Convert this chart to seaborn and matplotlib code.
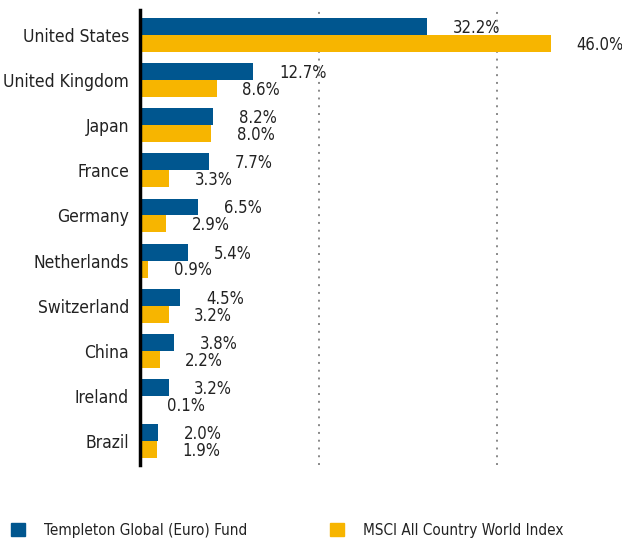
import pandas as pd
import matplotlib.pyplot as plt
import seaborn as sns

countries = ["United States", "United Kingdom", "Japan", "France", "Germany",
             "Netherlands", "Switzerland", "China", "Ireland", "Brazil"]
fund = [32.2, 12.7, 8.2, 7.7, 6.5, 5.4, 4.5, 3.8, 3.2, 2.0]
index = [46.0, 8.6, 8.0, 3.3, 2.9, 0.9, 3.2, 2.2, 0.1, 1.9]
series = ["Templeton Global (Euro) Fund", "MSCI All Country World Index"]
colors = ["#00568F", "#F7B500"]

df = pd.DataFrame({
    "country": countries * 2,
    "value": fund + index,
    "series": [series[0]] * len(countries) + [series[1]] * len(countries),
})

sns.set_style("white")
plt.rcParams["font.family"] = ["DejaVu Sans"]
plt.rcParams["font.stretch"] = "condensed"

fig = plt.figure(figsize=(6.22, 5.38), dpi=100)
ax = fig.add_axes([140 / 622, 73 / 538, 482 / 622, 455 / 538])

sns.barplot(data=df, y="country", x="value", hue="series", palette=colors,
            orient="h", width=0.75, gap=0, saturation=1, linewidth=0,
            ax=ax, legend=False)

# value labels, offset to the right of each bar
for cont in ax.containers:
    for bar in cont:
        w = bar.get_width()
        yc = bar.get_y() + bar.get_height() / 2
        ax.annotate(f"{w:.1f}%", xy=(w, yc), xytext=(18.5, -1),
                    textcoords="offset points", va="center", ha="left",
                    fontsize=12, color="#222222")

ax.set_xlim(0, 54)
ax.set_ylim(9.53, -0.554)
for gx in [20, 40]:
    ax.axvline(gx, color="#888888", lw=1.4, ls=(0, (1, 3)), zorder=0)

for s in ["top", "right", "bottom"]:
    ax.spines[s].set_visible(False)
ax.spines["left"].set_color("black")
ax.spines["left"].set_linewidth(2.5)
ax.set_xticks([])
ax.set_xlabel("")
ax.set_ylabel("")
ax.tick_params(axis="y", length=0, labelsize=12.5, pad=8, labelcolor="#222222")

handles = [plt.Rectangle((0, 0), 1, 1, color=c) for c in colors]
fig.legend(handles, series, loc="center left", bbox_to_anchor=(11 / 622, 8 / 538),
           ncol=2, frameon=False, fontsize=11, handlelength=0.92,
           handleheight=0.92, handletextpad=1.24, columnspacing=5.4,
           borderpad=0, borderaxespad=0, labelcolor="#222222")

fig.savefig("out.png", dpi=100)
